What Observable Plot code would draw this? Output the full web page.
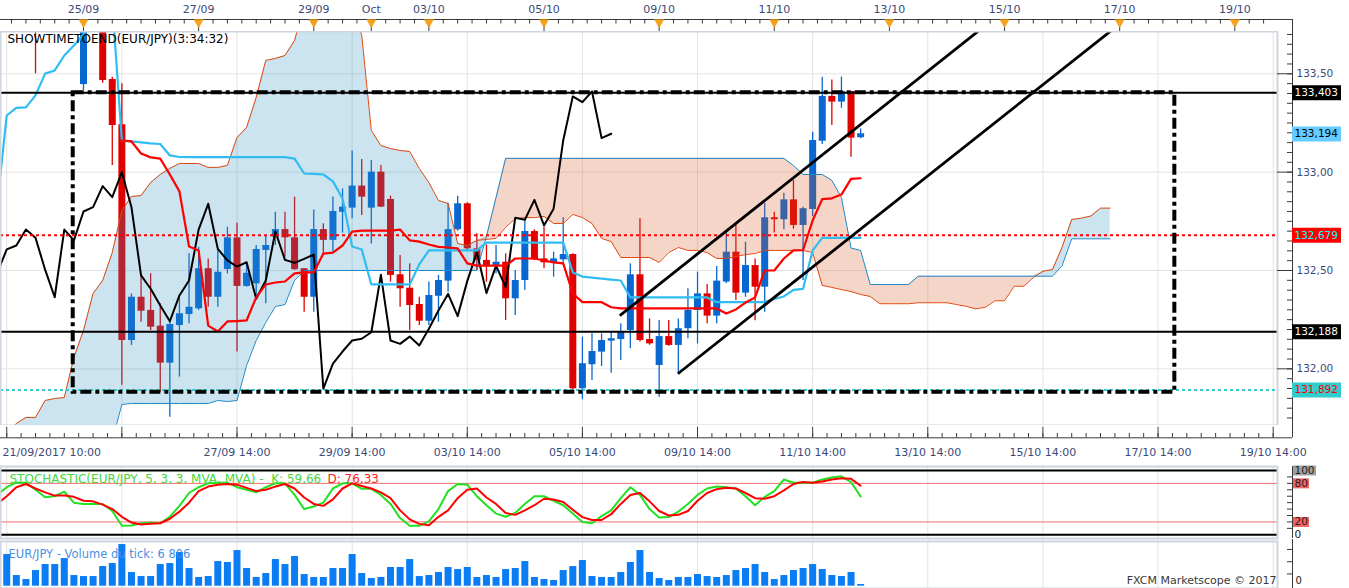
<!DOCTYPE html>
<html>
<head>
<meta charset="utf-8">
<script src="https://cdn.jsdelivr.net/npm/d3@7"></script>
<script src="https://cdn.jsdelivr.net/npm/@observablehq/plot@0.6"></script>
<style>
  html,body{margin:0;padding:0;background:#fff;}
  #chart{position:relative;width:1349px;height:588px;overflow:hidden;background:#fff;}
  #chart svg{position:absolute;left:0;}
</style>
</head>
<body>
<div id="chart"></div>
<script>
// ---------------- DATA (EUR/JPY, 4-hour candles; index 0 = first candle of 25/09) ----------------
const FIRST_CANDLE = -8;
const opens = [
134.10,134.20,134.05,134.15,133.85,134.00,133.95,134.05,
133.445,133.80,133.74,133.471,133.241,132.144,132.364,132.297,132.217,132.029,
132.220,132.276,132.305,132.509,132.364,132.505,132.666,132.419,132.432,132.602,
132.669,132.708,132.666,132.509,132.364,132.708,132.653,132.796,132.817,132.929,
132.817,133.000,132.861,132.478,132.410,132.327,132.242,132.369,132.446,132.707,
132.839,132.610,132.551,132.526,132.542,132.356,132.449,132.698,132.559,132.539,
132.554,132.581,131.899,132.021,132.085,132.141,132.149,132.195,132.478,132.149,
132.017,132.164,132.119,132.204,132.297,132.381,132.268,132.441,132.593,132.385,
132.525,132.415,132.768,132.758,132.859,132.729,132.810,133.157,133.385,133.356,
133.410,133.175];
const highs = [
134.25,134.30,134.20,134.20,134.05,134.10,134.15,134.10,
133.85,133.90,133.76,133.483,133.449,132.381,132.475,132.483,132.331,132.246,
132.364,132.585,132.618,132.559,132.610,132.720,132.740,132.534,132.627,132.678,
132.796,132.796,132.873,132.509,132.808,132.737,132.873,132.915,133.107,133.064,
133.059,133.034,132.878,132.576,132.534,132.364,132.441,132.475,132.842,132.878,
132.845,132.687,132.630,132.627,132.585,132.500,132.754,132.707,132.720,132.593,
132.768,132.585,132.161,132.178,132.178,132.186,132.229,132.534,132.763,132.254,
132.246,132.246,132.254,132.407,132.492,132.429,132.520,132.695,132.729,132.644,
132.559,132.842,132.796,132.893,132.958,132.822,133.203,133.483,133.469,133.483,
133.410,133.220];
const lows = [
134.00,133.95,133.90,133.50,133.80,133.85,133.90,133.80,
133.415,133.72,133.452,133.034,131.916,132.119,132.237,132.195,131.881,131.754,
131.958,132.229,132.297,132.313,132.313,132.483,132.085,132.415,132.364,132.331,
132.627,132.568,132.500,132.288,132.288,132.585,132.593,132.690,132.763,132.780,
132.635,132.820,132.441,132.313,132.195,132.220,132.220,132.237,132.390,132.700,
132.600,132.500,132.440,132.483,132.246,132.271,132.398,132.550,132.509,132.466,
132.534,131.890,131.843,131.941,132.012,131.978,132.042,132.102,132.136,132.120,
131.856,132.115,131.975,132.153,132.127,132.229,132.229,132.432,132.347,132.364,
132.245,132.288,132.690,132.707,132.710,132.449,132.775,133.141,133.237,133.325,
133.076,133.170];
const closes = [
134.20,134.05,134.15,133.85,134.00,133.95,134.05,133.95,
133.80,133.74,133.466,133.237,132.144,132.364,132.293,132.212,132.029,132.225,
132.280,132.313,132.509,132.364,132.491,132.666,132.419,132.486,132.607,132.627,
132.708,132.666,132.504,132.364,132.708,132.653,132.800,132.822,132.929,132.873,
133.000,132.822,132.475,132.407,132.322,132.242,132.373,132.449,132.708,132.839,
132.610,132.551,132.520,132.542,132.356,132.449,132.698,132.554,132.539,132.559,
132.581,131.899,132.026,132.088,132.144,132.153,132.186,132.478,132.144,132.127,
132.164,132.119,132.204,132.297,132.381,132.268,132.446,132.593,132.385,132.525,
132.415,132.768,132.758,132.859,132.729,132.814,133.161,133.385,133.356,133.410,
133.173,133.195];

// Ichimoku lines (index -9 .. 107 for the spans, -9 .. 81 for kijun, 4 .. 81 for tenkan)
const FIRST_LINE = -9;
const senkouA = [
131.585,131.661,131.722,131.753,131.753,131.839,131.849,131.854,132.058,
132.195,132.383,132.449,132.591,132.805,132.876,132.881,132.947,132.988,133.019,
133.044,133.044,133.044,133.024,133.024,133.034,133.176,133.227,133.380,133.568,
133.578,133.593,133.669,133.850,133.900,133.950,133.950,133.900,133.850,133.695,
133.212,133.135,133.120,133.110,133.105,133.019,132.947,132.856,132.841,132.637,
132.627,132.653,132.658,132.663,132.719,132.764,132.769,132.769,132.775,132.739,
132.739,132.785,132.769,132.739,132.663,132.647,132.566,132.566,132.566,132.566,
132.541,132.591,132.617,132.602,132.602,132.591,132.561,132.561,132.571,132.581,
132.586,132.602,132.602,132.602,132.602,132.602,132.591,132.424,132.414,132.403,
132.393,132.378,132.368,132.331,132.331,132.331,132.331,132.336,132.336,132.336,
132.336,132.327,132.318,132.305,132.313,132.346,132.346,132.420,132.420,132.464,
132.496,132.505,132.618,132.759,132.766,132.777,132.817,132.817];
const senkouB = [
131.636,131.636,131.636,131.636,131.636,131.636,131.636,131.636,131.636,
131.636,131.636,131.636,131.636,131.819,131.824,131.824,131.824,131.824,131.824,
131.824,131.824,131.824,131.824,131.839,131.834,131.839,132.017,132.144,132.236,
132.317,132.327,132.450,132.500,132.500,132.500,132.500,132.500,132.500,132.500,
132.500,132.500,132.500,132.500,132.500,132.500,132.500,132.500,132.500,132.500,
132.500,132.500,132.673,132.871,133.070,133.070,133.070,133.070,133.070,133.070,
133.070,133.070,133.070,133.070,133.070,133.070,133.070,133.070,133.070,133.070,
133.070,133.070,133.070,133.070,133.070,133.070,133.070,133.070,133.070,133.070,
133.070,133.070,133.070,133.070,133.034,132.988,132.988,132.988,132.958,132.871,
132.614,132.602,132.429,132.429,132.429,132.429,132.429,132.471,132.471,132.471,
132.471,132.471,132.471,132.471,132.471,132.471,132.471,132.471,132.471,132.471,
132.471,132.471,132.525,132.661,132.661,132.661,132.661,132.661];
const kijun = [
132.836,133.288,133.327,133.329,133.390,133.501,133.517,133.593,133.644,
133.700,133.771,133.822,133.857,133.161,133.156,133.151,133.146,133.143,133.085,
133.077,133.076,133.076,133.076,133.076,133.076,133.076,133.076,133.076,133.076,
133.076,133.076,133.069,132.993,132.991,132.988,132.953,132.866,132.622,132.607,
132.429,132.429,132.429,132.429,132.429,132.531,132.602,132.602,132.602,132.602,
132.602,132.602,132.642,132.642,132.642,132.642,132.642,132.642,132.642,132.642,
132.642,132.490,132.469,132.464,132.459,132.454,132.449,132.363,132.363,132.363,
132.363,132.363,132.363,132.363,132.363,132.363,132.339,132.339,132.339,132.339,
132.339,132.339,132.355,132.368,132.401,132.407,132.602,132.666,132.666,132.666,
132.666,132.666];
const FIRST_TENKAN = 4;
const tenkan = [
133.161,133.156,133.095,133.075,133.069,132.988,
132.902,132.622,132.602,132.220,132.190,132.241,132.243,132.246,132.363,132.429,
132.439,132.444,132.485,132.490,132.490,132.586,132.591,132.627,132.698,132.703,
132.703,132.703,132.703,132.708,132.653,132.647,132.632,132.620,132.617,132.612,
132.536,132.525,132.525,132.525,132.525,132.561,132.561,132.561,132.551,132.541,
132.536,132.383,132.339,132.339,132.339,132.313,132.307,132.307,132.307,132.307,
132.307,132.307,132.307,132.307,132.307,132.307,132.307,132.281,132.302,132.337,
132.363,132.500,132.500,132.561,132.602,132.604,132.754,132.863,132.867,132.886,
132.966,132.969];
const CHIKOU_SHIFT = 26;

// Stochastic (5,3,3) and tick volume, index -9 .. 81
const stochK = [
62,74,81,81,70,58.5,60,67,50,
48,48,48,37,14,14.5,18,19,18,28,
45,65,74,80,81,81,74,70,66,74,
80,80,62,40,44,50,72,80,80,71.5,
71.5,62,48,26,14,14,21,40,68,79,
78,60,46,33,28,34,48,60,60,53,
46,33,20,18,29,38,57,74,62,40,
27,27.5,36,48,62,72,75,74,72,60,
46,59,68,86,81,81,81,86,89,91,
82,59.66];
const stochD = [
48,60,74,79,72,66,61,61,59,
53,52,47,40,28,19,16,17,18,25,
36,50,68,75,78,79,78,73,68,70,
75,79,72,58,48,45,55,72,80,76,
72,66,57,38,24,17,15,28,38,57,
70,72,58,48,34,31,38,46,56,55,
51,39,27.5,23,23,32,48,62,65,52,
37,30,31,37,53,65,71,73,72,65,
57,56,60,69,79,82,81,83,86,88,
87,76.33];
const volumes = [
84300,129200,43500,27200,63900,88400,88400,112900,43500,
39400,39400,80200,92500,170000,55800,39400,39400,88400,92500,
137400,72100,35400,39400,100600,96600,145500,72100,35400,51700,
108800,88400,121000,47600,35400,35400,72100,72100,129200,51700,
31300,35400,76200,76200,108800,39400,43500,55800,76200,68000,
76200,35400,43500,35400,68000,72100,100600,35400,27200,23100,
63900,80200,104700,39400,35400,35400,55800,96600,145500,55800,
31300,23100,35400,35400,47600,39400,35400,43500,63900,72100,
88400,55800,27200,43500,63900,72100,88400,68000,43500,39400,
55800,6806];

// Drawn objects
const levelPrices = [133.403, 133.194, 132.679, 132.188, 131.892];
const levelLabels = ["133,403", "133,194", "132,679", "132,188", "131,892"];
const zone = [{i1: -1.07, i2: 113.75, p1: 131.881, p2: 133.403}];
const channels = [
  {i1: 55.9, p1: 132.271, i2: 98.0, p2: 133.9},
  {i1: 61.95, p1: 131.975, i2: 111.8, p2: 133.9}
];

// Axes
const dayIdx = [0, 12, 24, 30, 36, 48, 60, 72, 84, 96, 108, 120];
const dayLabels = ["25/09","27/09","29/09","Oct","03/10","05/10","09/10","11/10","13/10","15/10","17/10","19/10"];
const timeIdx = [16, 28, 40, 52, 64, 76, 88, 100, 112, 124];
const timeLabels = ["27/09 14:00","29/09 14:00","03/10 14:00","05/10 14:00","09/10 14:00","11/10 14:00","13/10 14:00","15/10 14:00","17/10 14:00","19/10 14:00"];
const firstTimeLabel = "21/09/2017 10:00";
const gridIdx = [-8, 4, 16, 28, 40, 52, 64, 76, 88, 100, 112, 124];
const priceGrid = [132.0, 132.5, 133.0, 133.5];
const priceTicks = [132.0, 132.5, 133.0, 133.5];
const stochLabels = [100, 80, 20, 0];

// ---------------- DRAWING ----------------
const W = 1349, PW = 1277, XMIN = -8.65, XMAX = 124.45;
const FONT = "DejaVu Sans";
const AXIS_TXT = "#3b4a78", AXIS_LN = "#3a3a3a", GRID = "#e3e3e3", BORDER = "#cdd5de";
const BLUE = "#0868d0", RED = "#e00000";

const candles = opens.map((o, k) => ({i: FIRST_CANDLE + k, o, h: highs[k], l: lows[k], c: closes[k]}));
const cloud = senkouA.map((a, k) => ({i: FIRST_LINE + k, a, b: senkouB[k]}));
const kijunData = kijun.map((v, k) => ({i: FIRST_LINE + k, v}));
const tenkanData = tenkan.map((v, k) => ({i: FIRST_TENKAN + k, v}));
const chikouData = closes.slice(FIRST_LINE + CHIKOU_SHIFT - FIRST_CANDLE).map((v, k) => ({i: FIRST_LINE + k, v}));
const stoch = stochK.map((k2, k) => ({i: FIRST_LINE + k, k: k2, d: stochD[k]}));
const vol = volumes.map((v, k) => ({i: FIRST_LINE + k, v}));
const levels = levelPrices.map((p, k) => ({p, label: levelLabels[k]}));
const levelBg = ["#000000", "#66ccff", "#ff0000", "#000000", "#33cccc"];
const levelFg = ["#ffffff", "#000000", "#00ffff", "#ffffff", "#ff0000"];
const candleColor = d => d.c >= d.o ? BLUE : RED;
const fmt2 = d => d.toFixed(2).replace(".", ",");

function panel(h, top, y, marks, visible) {
  const svg = Plot.plot({
    width: W, height: h,
    marginLeft: 0, marginRight: W - PW, marginTop: 0, marginBottom: 0,
    x: {domain: [XMIN, XMAX], range: [0, PW], axis: null},
    y: {...y, axis: null},
    style: {fontFamily: FONT, fontSize: "11px", background: "transparent", overflow: visible ? "visible" : "hidden"},
    marks
  });
  svg.style.top = top + "px";
  document.getElementById("chart").appendChild(svg);
}

// Top date axis (pixel-y strip)
panel(31, 0, {domain: [0, 31], range: [0, 31]}, [
  Plot.ruleY([19], {x1: XMIN, x2: XMAX, insetRight: -15, stroke: AXIS_LN}),
  Plot.ruleX(d3.range(-7.5, 124.5, 1.5), {y1: 19, y2: 23.5, stroke: AXIS_LN}),
  Plot.ruleX(dayIdx, {y1: 19, y2: 31, stroke: AXIS_LN}),
  Plot.dot(dayIdx, {x: d => d, y: 21.7, symbol: "triangle", r: 3.4, rotate: 180, fill: "#f6a21c", stroke: "#e5900c", strokeWidth: 0.5}),
  Plot.text(dayIdx, {x: d => d, y: 8.7, text: (d, k) => dayLabels[k], fill: AXIS_TXT}),
  Plot.ruleX([XMAX], {dx: 15, y1: 19, y2: 31, stroke: AXIS_LN})
]);

// Main price panel
panel(394, 31, {domain: [133.715 - 394 / 196.7, 133.715], range: [394, 0]}, [
  Plot.ruleY(priceGrid, {stroke: GRID}),
  Plot.ruleX(gridIdx, {stroke: GRID}),
  // candles
  Plot.ruleX(candles, {x: "i", y1: "l", y2: "h", stroke: candleColor, strokeWidth: 1.3, clip: true}),
  Plot.ruleX(candles, {x: "i", y1: "o", y2: "c", stroke: candleColor, strokeWidth: 7, clip: true}),
  // Ichimoku cloud
  Plot.areaY(cloud, {x: "i", y1: "b", y2: d => Math.max(d.a, d.b), fill: "rgb(51,143,195)", fillOpacity: 0.25, clip: true}),
  Plot.areaY(cloud, {x: "i", y1: "a", y2: d => Math.max(d.a, d.b), fill: "rgb(215,87,35)", fillOpacity: 0.25, clip: true}),
  Plot.line(cloud, {x: "i", y: "a", stroke: "#e0480e", strokeWidth: 1, clip: true}),
  Plot.line(cloud, {x: "i", y: "b", stroke: "#1c86c6", strokeWidth: 1, clip: true}),
  Plot.line(chikouData, {x: "i", y: "v", stroke: "#000", strokeWidth: 2, clip: true}),
  Plot.line(kijunData, {x: "i", y: "v", stroke: "#2fbdf2", strokeWidth: 2.2, clip: true}),
  Plot.line(tenkanData, {x: "i", y: "v", stroke: "#ff0000", strokeWidth: 2.2, clip: true}),
  // levels
  Plot.ruleY([levelPrices[0], levelPrices[3]], {stroke: "#000", strokeWidth: 2}),
  Plot.ruleY([levelPrices[2]], {stroke: "#ff0000", strokeWidth: 2, strokeDasharray: "3,3"}),
  Plot.ruleY([levelPrices[4]], {stroke: "#33cccc", strokeWidth: 2, strokeDasharray: "3,3"}),
  Plot.rect(zone, {x1: "i1", x2: "i2", y1: "p1", y2: "p2", fill: "none", stroke: "#000", strokeWidth: 4, strokeDasharray: "11,4,4,4"}),
  Plot.link(channels, {x1: "i1", y1: "p1", x2: "i2", y2: "p2", stroke: "#000", strokeWidth: 2.8, clip: true}),
  Plot.text(["SHOWTIMETOEND(EUR/JPY)(3:34:32)"], {frameAnchor: "top-left", dx: 7, dy: 3, lineAnchor: "top", textAnchor: "start", fontSize: 12, fill: "#000"}),
  Plot.frame({stroke: BORDER, strokeWidth: 2}),
  // right price axis
  Plot.ruleX([XMAX], {dx: 15, stroke: AXIS_LN}),
  Plot.ruleY(d3.range(131.75, 133.71, 0.05), {x1: XMAX, x2: XMAX, insetLeft: 10, insetRight: -15, stroke: AXIS_LN}),
  Plot.ruleY(priceTicks, {x1: XMAX, x2: XMAX, insetLeft: 0, insetRight: -15, stroke: AXIS_LN}),
  Plot.text(priceTicks, {x: XMAX, y: d => d, dx: 19, textAnchor: "start", text: fmt2, fill: AXIS_TXT, fontSize: 10.5}),
  Plot.ruleY(levels, {y: "p", x1: XMAX, x2: XMAX, insetLeft: 15, insetRight: -64, strokeWidth: 15, stroke: (d, k) => levelBg[k]}),
  Plot.text(levels, {x: XMAX, y: "p", dx: 17, textAnchor: "start", text: "label", fill: (d, k) => levelFg[k], fontSize: 10.5})
]);

// Bottom time axis (pixel-y strip)
panel(41, 425, {domain: [0, 41], range: [0, 41]}, [
  Plot.ruleY([12.3], {x1: XMIN, x2: XMAX, insetRight: -15, stroke: AXIS_LN}),
  Plot.ruleX(d3.range(-8, 124.5, 1.5), {y1: 8, y2: 12.3, stroke: AXIS_LN}),
  Plot.ruleX(gridIdx, {y1: 1.7, y2: 12.3, stroke: AXIS_LN}),
  Plot.ruleX([XMAX], {dx: 15, y1: 0, y2: 12.3, stroke: AXIS_LN}),
  Plot.text(timeIdx, {x: d => d, y: 27.2, text: (d, k) => timeLabels[k], fill: AXIS_TXT}),
  Plot.text([firstTimeLabel], {x: XMIN, y: 27.2, dx: 2, textAnchor: "start", fill: AXIS_TXT})
]);

// Stochastic panel
panel(72, 466, {domain: [0, 100], range: [68.3, 4]}, [
  Plot.ruleX(gridIdx, {stroke: GRID}),
  Plot.ruleY([80, 20], {stroke: "#f26d6d"}),
  Plot.ruleY([100, 0], {stroke: "#000", strokeWidth: 2}),
  Plot.line(stoch, {x: "i", y: "k", stroke: "#22e022", strokeWidth: 2, clip: true}),
  Plot.line(stoch, {x: "i", y: "d", stroke: "#ff0000", strokeWidth: 2, clip: true}),
  Plot.text(["STOCHASTIC(EUR/JPY, 5, 3, 3, MVA, MVA) -  K: 59,66"], {frameAnchor: "top-left", dx: 9, dy: 8, textAnchor: "start", fill: "#3fd83f", fontSize: 12}),
  Plot.text(["D: 76,33"], {frameAnchor: "top-left", dx: 327, dy: 8, textAnchor: "start", fill: "#ff2020", fontSize: 12}),
  Plot.frame({stroke: BORDER, strokeWidth: 2}),
  Plot.ruleX([XMAX], {dx: 15, stroke: AXIS_LN}),
  Plot.ruleY([10, 20, 30, 40, 50, 60, 70, 80, 90], {x1: XMAX, x2: XMAX, insetLeft: 10, insetRight: -15, stroke: AXIS_LN}),
  Plot.ruleY([100], {x1: XMAX, x2: XMAX, insetLeft: 16, insetRight: -39, strokeWidth: 10, stroke: "#a0a0a0"}),
  Plot.ruleY([80, 20], {x1: XMAX, x2: XMAX, insetLeft: 16, insetRight: -32, strokeWidth: 10, stroke: "#f06262"}),
  Plot.text(stochLabels, {x: XMAX, y: d => d, dx: 17, textAnchor: "start", text: d => String(d), fill: "#222", fontSize: 10.5})
], true);

// Volume panel
panel(49, 539, {domain: [0, 180000], range: [46.7, 46.7 - 180000 / 4080]}, [
  Plot.ruleX(gridIdx, {stroke: GRID}),
  Plot.ruleX(vol, {x: "i", y1: 0, y2: "v", stroke: "#0a7cf4", strokeWidth: 7, clip: true}),
  Plot.text(["EUR/JPY - Volume du tick: 6 806"], {frameAnchor: "top-left", dx: 8, dy: 10, textAnchor: "start", fill: "#4a90e2", fontSize: 11.5}),
  Plot.text(["FXCM Marketscope © 2017"], {frameAnchor: "top-right", dx: -1, dy: 37, textAnchor: "end", fill: "#3a3a3a", fontSize: 11}),
  Plot.frame({stroke: BORDER, strokeWidth: 2, insetTop: 2}),
  Plot.ruleX([XMAX], {dx: 15, stroke: AXIS_LN}),
  Plot.ruleY([50000, 100000, 150000], {x1: XMAX, x2: XMAX, insetLeft: 10, insetRight: -15, stroke: AXIS_LN}),
  Plot.text([0], {x: XMAX, y: d => d, dx: 18, dy: -5, textAnchor: "start", text: d => String(d), fill: "#222", fontSize: 10})
]);
</script>
</body>
</html>
